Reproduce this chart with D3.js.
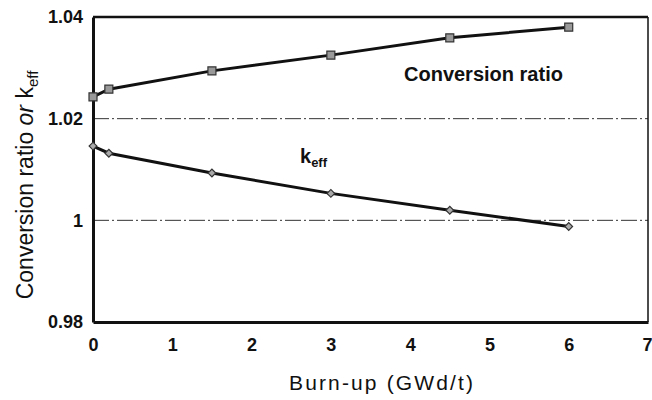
<!DOCTYPE html>
<html><head><meta charset="utf-8">
<script src="https://cdn.jsdelivr.net/npm/d3@7"></script>
<style>body{margin:0;background:#fff}svg{display:block}</style>
</head><body><svg id="c" width="652" height="400"></svg>
<script>
const burnup = [0, 0.2, 1.5, 3, 4.5, 6];
const conversionRatio = [1.0243, 1.0258, 1.0294, 1.0325, 1.0359, 1.0380];
const keff = [1.0146, 1.0132, 1.0093, 1.0053, 1.0020, 0.9988];
const xTicks = [0, 1, 2, 3, 4, 5, 6, 7];
const yTicks = [0.98, 1, 1.02, 1.04];
const gridValues = [1, 1.02];

const svg = d3.select('#c');
const L = 93, R = 648, T = 17, B = 322;
const x = d3.scaleLinear().domain([0, 7]).range([L, R]);
const y = d3.scaleLinear().domain([0.98, 1.04]).range([B, T]);
const font = '"Liberation Sans", Arial, sans-serif';

// grid lines
svg.selectAll('.grid').data(gridValues).enter().append('line')
  .attr('x1', L).attr('x2', R).attr('y1', d => y(d)).attr('y2', d => y(d))
  .attr('stroke', '#333').attr('stroke-width', 1).attr('stroke-dasharray', '16,3,2,3');

// frame
svg.append('line').attr('x1', L).attr('x2', R).attr('y1', T).attr('y2', T).attr('stroke', '#111').attr('stroke-width', 2.5);
svg.append('line').attr('x1', R).attr('x2', R).attr('y1', T).attr('y2', B).attr('stroke', '#111').attr('stroke-width', 1.5);

// axes
const xAxis = svg.append('g').attr('transform', `translate(0,${B})`)
  .call(d3.axisBottom(x).tickValues(xTicks).tickFormat(d3.format('d')).tickSize(0).tickPadding(16));
const yAxis = svg.append('g').attr('transform', `translate(${L},0)`)
  .call(d3.axisLeft(y).tickValues(yTicks).tickFormat(d => d === 1 ? '1' : d3.format('.2f')(d)).tickSize(0).tickPadding(10));
[xAxis, yAxis].forEach(g => {
  g.select('.domain').attr('stroke', '#111').attr('stroke-width', 3);
  g.selectAll('text').attr('font-family', font).attr('font-size', 18).attr('font-weight', 'bold').attr('fill', '#111');
});
// keep the last x label inside the picture
xAxis.selectAll('.tick').filter(d => d === 7).select('text').attr('text-anchor', 'end').attr('dx', 4);

// lines
const line = d3.line().x(d => x(d[0])).y(d => y(d[1]));
const crData = burnup.map((b, i) => [b, conversionRatio[i]]);
const kData = burnup.map((b, i) => [b, keff[i]]);
[crData, kData].forEach(data => {
  svg.append('path').datum(data).attr('d', line).attr('fill', 'none')
    .attr('stroke', '#111').attr('stroke-width', 3);
});

// markers
svg.selectAll('.sq').data(crData).enter().append('path')
  .attr('d', d3.symbol().type(d3.symbolSquare).size(64))
  .attr('transform', d => `translate(${x(d[0])},${y(d[1])})`)
  .attr('fill', '#999').attr('stroke', '#333').attr('stroke-width', 1.2);
svg.selectAll('.dm').data(kData).enter().append('path')
  .attr('d', d3.symbol().type(d3.symbolSquare).size(30))
  .attr('transform', d => `translate(${x(d[0])},${y(d[1])}) rotate(45)`)
  .attr('fill', '#aaa').attr('stroke', '#333').attr('stroke-width', 1.2);

// annotations
svg.append('text').attr('x', 404).attr('y', 81).attr('font-family', font)
  .attr('font-size', 20).attr('font-weight', 'bold').attr('fill', '#111').text('Conversion ratio');
const kt = svg.append('text').attr('x', 300).attr('y', 163).attr('font-family', font)
  .attr('font-size', 20).attr('font-weight', 'bold').attr('fill', '#111');
kt.append('tspan').text('k');
kt.append('tspan').attr('font-size', 13).attr('dy', 4).text('eff');

// axis titles
svg.append('text').attr('x', 289).attr('y', 390)
  .attr('font-family', font).attr('font-size', 21).attr('fill', '#111')
  .attr('textLength', 184).attr('lengthAdjust', 'spacing').text('Burn-up (GWd/t)');
const yt = svg.append('text').attr('transform', `translate(33,185) rotate(-90)`)
  .attr('text-anchor', 'middle').attr('font-family', font).attr('font-size', 23).attr('fill', '#111');
yt.append('tspan').text('Conversion ratio ');
yt.append('tspan').attr('font-style', 'italic').text('or');
yt.append('tspan').text(' k');
yt.append('tspan').attr('font-size', 15).attr('dy', 5).text('eff');
</script></body></html>
